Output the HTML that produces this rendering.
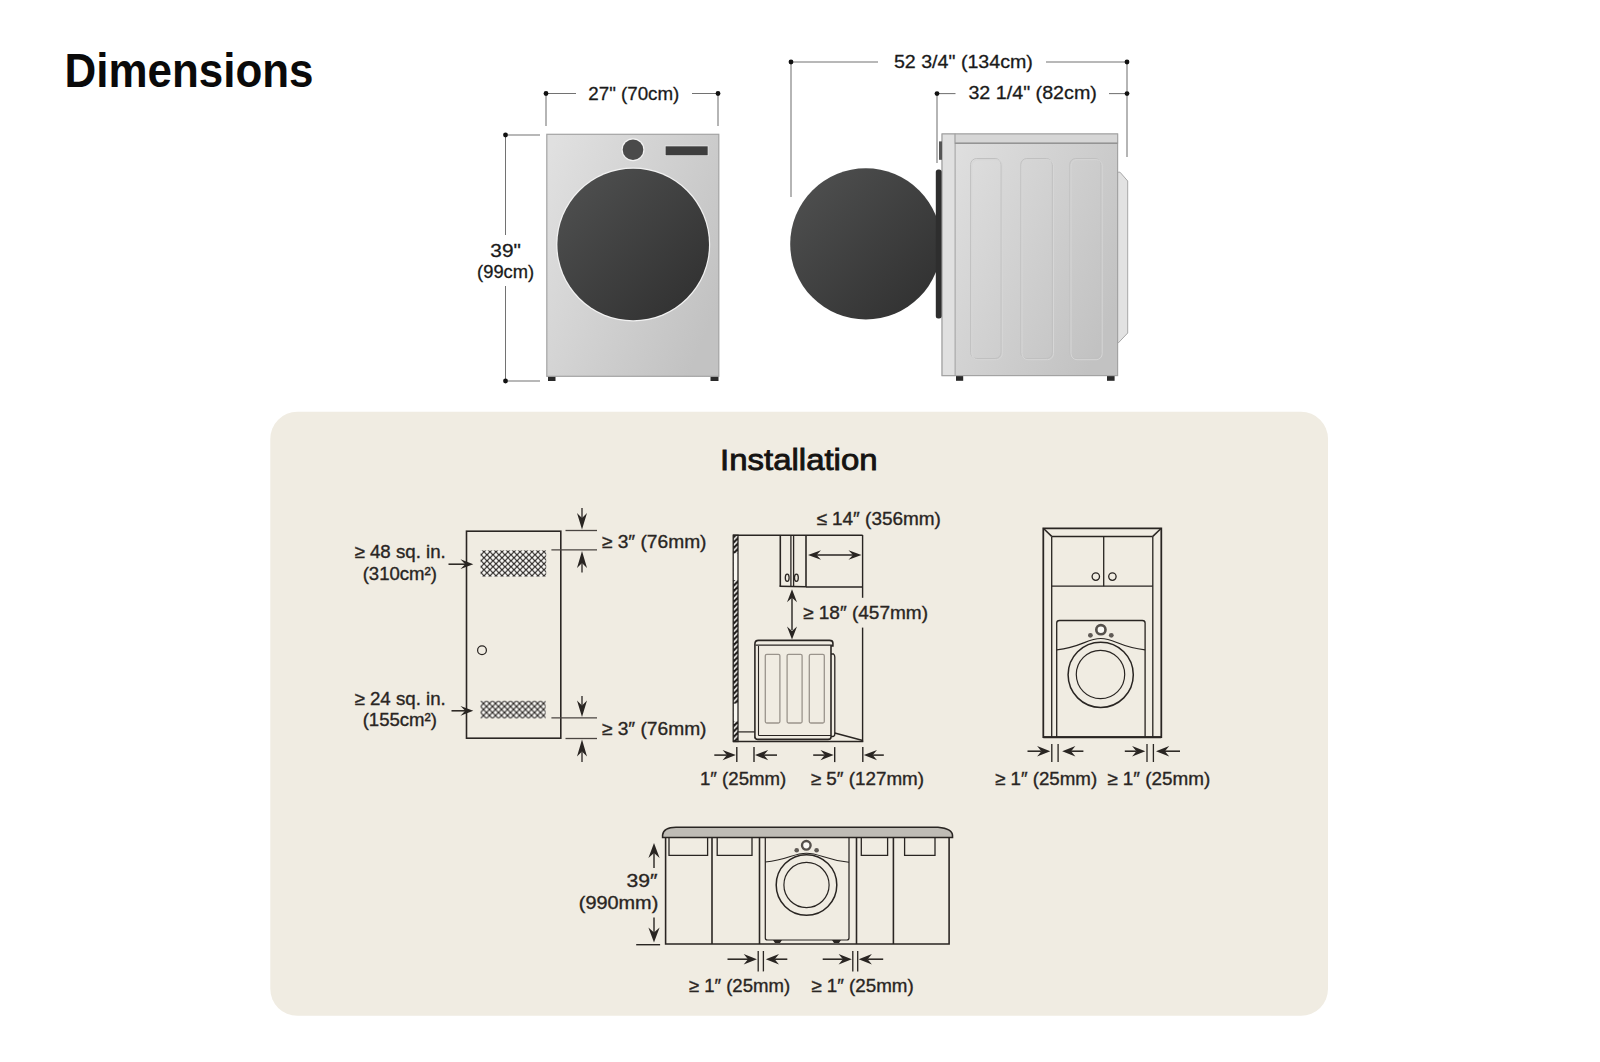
<!DOCTYPE html>
<html><head><meta charset="utf-8"><title>Dimensions</title>
<style>
html,body{margin:0;padding:0;background:#fff;width:1600px;height:1062px;overflow:hidden}
svg{position:absolute;left:0;top:0;display:block}
text{font-family:"Liberation Sans",sans-serif}
</style></head><body>
<svg width="1600" height="1062" viewBox="0 0 1600 1062">
<defs>
  <linearGradient id="body" x1="0" y1="0.1" x2="1" y2="0.7">
    <stop offset="0" stop-color="#e0e0e0"/>
    <stop offset="1" stop-color="#c2c2c2"/>
  </linearGradient>
  <linearGradient id="door" x1="0" y1="0" x2="1" y2="1">
    <stop offset="0" stop-color="#515252"/>
    <stop offset="1" stop-color="#2e2e2e"/>
  </linearGradient>
  <pattern id="mesh1" patternUnits="userSpaceOnUse" width="6" height="6" x="481" y="548.75">
    <rect width="6" height="6" fill="#fbfaf7"/>
    <path d="M-1.5,-1.5 L7.5,7.5 M7.5,-1.5 L-1.5,7.5" stroke="#2a2624" stroke-width="1.2"/>
  </pattern>
  <pattern id="mesh2" patternUnits="userSpaceOnUse" width="6" height="6" x="480.5" y="700.5">
    <rect width="6" height="6" fill="#fbfaf7"/>
    <path d="M-1.5,-1.5 L7.5,7.5 M7.5,-1.5 L-1.5,7.5" stroke="#2a2624" stroke-width="1.2"/>
  </pattern>
  <pattern id="hatch" patternUnits="userSpaceOnUse" width="5.4" height="5.4" x="733" y="535">
    <rect width="5.4" height="5.4" fill="#1a1715"/>
    <path d="M-1,6.4 L6.4,-1" stroke="#fbfaf6" stroke-width="1.7"/>
  </pattern>
</defs>

<!-- ============ TITLE ============ -->
<text x="64.5" y="87" font-size="48" font-weight="bold" fill="#0a0a0a" textLength="249" lengthAdjust="spacingAndGlyphs">Dimensions</text>

<!-- ============ FRONT WASHER ============ -->
<g>
  <!-- width dim -->
  <g stroke="#727272" stroke-width="1.05" fill="none">
    <line x1="546" y1="93.5" x2="576" y2="93.5"/>
    <line x1="692" y1="93.5" x2="718" y2="93.5"/>
    <line x1="546" y1="93.5" x2="546" y2="126"/>
    <line x1="718" y1="93.5" x2="718" y2="126"/>
    <line x1="505.5" y1="135" x2="540" y2="135"/>
    <line x1="505.5" y1="381" x2="540" y2="381"/>
    <line x1="505.5" y1="135" x2="505.5" y2="235"/>
    <line x1="505.5" y1="286" x2="505.5" y2="381"/>
  </g>
  <g fill="#111">
    <circle cx="546" cy="93.5" r="2.4"/><circle cx="718" cy="93.5" r="2.4"/>
    <circle cx="505.5" cy="135" r="2.4"/><circle cx="505.5" cy="381" r="2.4"/>
  </g>
  <text x="633.8" y="99.8" font-size="19" fill="#1a1a1a" stroke="#1a1a1a" stroke-width="0.3" text-anchor="middle" textLength="91" lengthAdjust="spacingAndGlyphs">27" (70cm)</text>
  <text x="505.6" y="256.6" font-size="19" fill="#1a1a1a" stroke="#1a1a1a" stroke-width="0.3" text-anchor="middle" textLength="30.5" lengthAdjust="spacingAndGlyphs">39"</text>
  <text x="505.6" y="278.2" font-size="19" fill="#1a1a1a" stroke="#1a1a1a" stroke-width="0.3" text-anchor="middle" textLength="57" lengthAdjust="spacingAndGlyphs">(99cm)</text>
  <!-- body -->
  <rect x="548" y="376" width="7.5" height="5" fill="#2a2a2a"/>
  <rect x="710.5" y="376" width="8" height="5" fill="#2a2a2a"/>
  <rect x="546.8" y="134.3" width="172" height="242" fill="url(#body)" stroke="#a3a3a3" stroke-width="1.2"/>
  <circle cx="633" cy="149.7" r="11.5" fill="#f2f2f2"/>
  <circle cx="633" cy="149.7" r="10.3" fill="#4a4a4a"/>
  <rect x="665.2" y="146" width="42.8" height="9.7" fill="#3e3e3e" stroke="#f0f0f0" stroke-width="0.6"/>
  <circle cx="633.2" cy="244.5" r="77" fill="#f2f2f2"/>
  <circle cx="633.2" cy="244.5" r="75.8" fill="url(#door)"/>
</g>

<!-- ============ SIDE WASHER ============ -->
<g>
  <g stroke="#727272" stroke-width="1.05" fill="none">
    <line x1="791" y1="62" x2="878" y2="62"/>
    <line x1="1046" y1="62" x2="1127" y2="62"/>
    <line x1="791" y1="62" x2="791" y2="197"/>
    <line x1="1127" y1="62" x2="1127" y2="157"/>
    <line x1="937" y1="93.6" x2="955.5" y2="93.6"/>
    <line x1="1109" y1="93.6" x2="1127" y2="93.6"/>
    <line x1="937" y1="93.6" x2="937" y2="163"/>
  </g>
  <g fill="#111">
    <circle cx="791" cy="62" r="2.4"/><circle cx="1127" cy="62" r="2.4"/>
    <circle cx="937" cy="93.6" r="2.4"/><circle cx="1127" cy="93.6" r="2.4"/>
  </g>
  <text x="893.9" y="68.1" font-size="19" fill="#1a1a1a" stroke="#1a1a1a" stroke-width="0.3" textLength="139" lengthAdjust="spacingAndGlyphs">52 3/4" (134cm)</text>
  <text x="968.4" y="99.4" font-size="19" fill="#1a1a1a" stroke="#1a1a1a" stroke-width="0.3" textLength="128.5" lengthAdjust="spacingAndGlyphs">32 1/4" (82cm)</text>

  <!-- rear bump -->
  <path d="M1117,172.2 L1120,172.2 L1127.7,181 L1127.7,333 L1118,343.2 L1117,343.2 Z" fill="#e2e2e2" stroke="#a8a8a8" stroke-width="1"/>
  <!-- feet -->
  <rect x="956" y="375.6" width="7.2" height="5.2" fill="#2a2a2a"/>
  <rect x="1107" y="375.6" width="7.6" height="5.2" fill="#2a2a2a"/>
  <!-- body -->
  <rect x="942.1" y="134" width="175.5" height="241.6" fill="url(#body)" stroke="#a3a3a3" stroke-width="1.2"/>
  <rect x="942.1" y="134" width="13" height="241.6" fill="#e0e0e0" stroke="#a0a0a0" stroke-width="1"/>
  <rect x="955.1" y="134" width="162.5" height="9.4" fill="#d6d6d6" stroke="#a3a3a3" stroke-width="1"/><line x1="955.1" y1="143.2" x2="1117.6" y2="143.2" stroke="#8e8e8e" stroke-width="1.3"/>
  <g fill="none" stroke="#c0c0c0" stroke-width="1">
    <rect x="970.6" y="158.5" width="30.5" height="200" rx="6"/>
    <rect x="1020.8" y="158.5" width="31.5" height="200" rx="6"/>
    <rect x="1069.8" y="158.5" width="31.2" height="200" rx="6"/>
  </g>
  <g fill="none" stroke="#d6d6d6" stroke-width="1">
    <rect x="971.8" y="159.7" width="30.5" height="200" rx="6"/>
    <rect x="1022" y="159.7" width="31.5" height="200" rx="6"/>
    <rect x="1071" y="159.7" width="31.2" height="200" rx="6"/>
  </g>
  <!-- knob stub -->
  <rect x="939" y="141.4" width="3" height="18.4" fill="#555"/>
  <!-- door -->
  <clipPath id="dclip"><rect x="780" y="160" width="156" height="170"/></clipPath><circle cx="865.8" cy="243.9" r="75.6" fill="url(#door)" clip-path="url(#dclip)"/>
  <rect x="935.8" y="169.5" width="5.8" height="149" rx="2.5" fill="#2e2e2e"/>
</g>


<rect x="270.3" y="411.8" width="1057.7" height="604" rx="27" fill="#f0ece2"/>
<text x="720.1" y="470.2" font-size="30" text-anchor="start" fill="#151311" stroke="#151311" stroke-width="0.85" font-weight="normal" textLength="157.5" lengthAdjust="spacingAndGlyphs">Installation</text>
<rect x="466.5" y="531.2" width="94.3" height="207" fill="none" stroke="#292522" stroke-width="1.58"/>
<rect x="480.6" y="550.4" width="65.6" height="26.2" fill="url(#mesh1)"/>
<rect x="480.6" y="700.8" width="65.1" height="17.6" fill="url(#mesh2)"/>
<circle cx="482" cy="650.2" r="4.4" fill="none" stroke="#292522" stroke-width="1.23"/>
<line x1="448.50" y1="564.20" x2="465.20" y2="564.20" stroke="#292522" stroke-width="1.54"/><path d="M473.30,564.20 L460.50,569.10 L465.20,564.20 L460.50,559.30 Z" fill="#292522"/>
<line x1="451.50" y1="710.80" x2="465.20" y2="710.80" stroke="#292522" stroke-width="1.54"/><path d="M473.30,710.80 L460.50,715.70 L465.20,710.80 L460.50,705.90 Z" fill="#292522"/>
<line x1="565.5" y1="530.5" x2="597" y2="530.5" stroke="#4a4541" stroke-width="1.3" />
<line x1="551.4" y1="549.9" x2="597" y2="549.9" stroke="#4a4541" stroke-width="1.3" />
<line x1="582.00" y1="508.10" x2="582.00" y2="518.10" stroke="#292522" stroke-width="1.3"/><path d="M582.00,529.60 L577.00,513.10 L582.00,518.10 L587.00,513.10 Z" fill="#292522"/>
<line x1="582.00" y1="572.50" x2="582.00" y2="563.00" stroke="#292522" stroke-width="1.3"/><path d="M582.00,551.00 L587.00,568.00 L582.00,563.00 L577.00,568.00 Z" fill="#292522"/>
<line x1="551.4" y1="717.9" x2="597" y2="717.9" stroke="#4a4541" stroke-width="1.3" />
<line x1="565.5" y1="738.5" x2="597" y2="738.5" stroke="#4a4541" stroke-width="1.3" />
<line x1="582.00" y1="696.00" x2="582.00" y2="705.50" stroke="#292522" stroke-width="1.3"/><path d="M582.00,717.00 L577.00,700.50 L582.00,705.50 L587.00,700.50 Z" fill="#292522"/>
<line x1="582.00" y1="762.00" x2="582.00" y2="751.50" stroke="#292522" stroke-width="1.3"/><path d="M582.00,739.50 L587.00,756.50 L582.00,751.50 L577.00,756.50 Z" fill="#292522"/>
<text x="445.8" y="557.5" font-size="18.5" text-anchor="end" fill="#292522" stroke="#292522" stroke-width="0.35" font-weight="normal" textLength="91.3" lengthAdjust="spacingAndGlyphs">≥ 48 sq. in.</text>
<text x="399.8" y="579.6" font-size="18.5" text-anchor="middle" fill="#292522" stroke="#292522" stroke-width="0.35" font-weight="normal" textLength="74.3" lengthAdjust="spacingAndGlyphs">(310cm²)</text>
<text x="445.8" y="704.8" font-size="18.5" text-anchor="end" fill="#292522" stroke="#292522" stroke-width="0.35" font-weight="normal" textLength="91.3" lengthAdjust="spacingAndGlyphs">≥ 24 sq. in.</text>
<text x="399.8" y="726.2" font-size="18.5" text-anchor="middle" fill="#292522" stroke="#292522" stroke-width="0.35" font-weight="normal" textLength="74.3" lengthAdjust="spacingAndGlyphs">(155cm²)</text>
<text x="601.8" y="547.5" font-size="18.5" text-anchor="start" fill="#292522" stroke="#292522" stroke-width="0.35" font-weight="normal" textLength="104.7" lengthAdjust="spacingAndGlyphs">≥ 3″ (76mm)</text>
<text x="601.8" y="734.5" font-size="18.5" text-anchor="start" fill="#292522" stroke="#292522" stroke-width="0.35" font-weight="normal" textLength="104.7" lengthAdjust="spacingAndGlyphs">≥ 3″ (76mm)</text>
<rect x="733.2" y="535.2" width="4.8" height="206.3" fill="url(#hatch)"/>
<rect x="733.2" y="553.4" width="4.8" height="26.7" fill="#f8f6f0"/>
<rect x="733.2" y="703.6" width="4.8" height="17.7" fill="#f8f6f0"/>
<rect x="733.2" y="535.2" width="4.8" height="206.3" fill="none" stroke="#292522" stroke-width="1.3"/>
<line x1="733" y1="535.2" x2="862.6" y2="535.2" stroke="#292522" stroke-width="1.5" />
<line x1="862.6" y1="535" x2="862.6" y2="597.8" stroke="#292522" stroke-width="1.41" />
<line x1="862.6" y1="627.6" x2="862.6" y2="741.5" stroke="#292522" stroke-width="1.41" />
<line x1="733" y1="741.5" x2="863.3" y2="741.5" stroke="#292522" stroke-width="1.5" />
<line x1="780.3" y1="535" x2="780.3" y2="586.3" stroke="#292522" stroke-width="1.58" />
<line x1="790.9" y1="535" x2="790.9" y2="586.3" stroke="#292522" stroke-width="1.3" />
<line x1="793.6" y1="535" x2="793.6" y2="586.3" stroke="#292522" stroke-width="1.3" />
<line x1="806" y1="535" x2="806" y2="587" stroke="#292522" stroke-width="1.58" />
<line x1="779.5" y1="586.3" x2="806" y2="586.8" stroke="#292522" stroke-width="1.58" />
<line x1="806" y1="587" x2="862.6" y2="587" stroke="#292522" stroke-width="1.32" />
<ellipse cx="787.2" cy="577.7" rx="1.9" ry="3.6" fill="none" stroke="#292522" stroke-width="1.32"/>
<ellipse cx="796.4" cy="577.7" rx="1.9" ry="3.6" fill="none" stroke="#292522" stroke-width="1.32"/>
<line x1="815" y1="555" x2="854" y2="555" stroke="#292522" stroke-width="1.41" />
<path d="M808.00,555.00 L821.00,550.20 L816.50,555.00 L821.00,559.80 Z" fill="#292522"/>
<path d="M861.50,555.00 L848.50,559.80 L853.00,555.00 L848.50,550.20 Z" fill="#292522"/>
<line x1="792" y1="598" x2="792" y2="630" stroke="#292522" stroke-width="1.41" />
<path d="M792.00,589.20 L797.00,602.20 L792.00,597.70 L787.00,602.20 Z" fill="#292522"/>
<path d="M792.00,639.50 L787.00,626.50 L792.00,631.00 L797.00,626.50 Z" fill="#292522"/>
<path d="M754.9,738.5 L754.9,644 Q754.9,640.4 758.5,640.4 L829.5,640.4 Q832.9,640.4 832.9,643 L832.9,646 L831,646 L831,737 Q831,739.4 828,739.4 L758,739.4 Q754.9,739.4 754.9,736" fill="none" stroke="#292522" stroke-width="1.58"/>
<line x1="755.5" y1="645.2" x2="832" y2="645.2" stroke="#292522" stroke-width="1.32" />
<line x1="758.5" y1="646" x2="758.5" y2="735.5" stroke="#292522" stroke-width="1.1" />
<line x1="758.5" y1="735.5" x2="831" y2="735.5" stroke="#292522" stroke-width="1.1" />
<path d="M831,654 L833.5,654 Q834.8,655 834.8,657 L834.8,734 Q834.8,736.5 832.5,736.5 L831,736.5" fill="none" stroke="#292522" stroke-width="1.3"/>
<rect x="765.3" y="654.3" width="14.6" height="68.7" rx="1.5" fill="none" stroke="#9a948c" stroke-width="1.3"/>
<rect x="787.1" y="654.3" width="15.0" height="68.7" rx="1.5" fill="none" stroke="#9a948c" stroke-width="1.3"/>
<rect x="809.3" y="654.3" width="15.0" height="68.7" rx="1.5" fill="none" stroke="#9a948c" stroke-width="1.3"/>
<line x1="738" y1="731.9" x2="754.9" y2="731.9" stroke="#292522" stroke-width="1.23" />
<line x1="834.7" y1="733" x2="862.8" y2="740.5" stroke="#292522" stroke-width="1.32" />
<line x1="736.8" y1="747.1" x2="736.8" y2="762.1" stroke="#292522" stroke-width="1.41" />
<line x1="754" y1="747.1" x2="754" y2="762.1" stroke="#292522" stroke-width="1.41" />
<line x1="834.7" y1="747.1" x2="834.7" y2="762.1" stroke="#292522" stroke-width="1.41" />
<line x1="862.8" y1="747.1" x2="862.8" y2="762.1" stroke="#292522" stroke-width="1.41" />
<line x1="714.30" y1="755.10" x2="726.90" y2="755.10" stroke="#292522" stroke-width="1.54"/><path d="M735.80,755.10 L722.60,760.30 L726.90,755.10 L722.60,749.90 Z" fill="#292522"/>
<line x1="777.00" y1="755.10" x2="763.90" y2="755.10" stroke="#292522" stroke-width="1.54"/><path d="M755.00,755.10 L768.20,749.90 L763.90,755.10 L768.20,760.30 Z" fill="#292522"/>
<line x1="813.20" y1="755.10" x2="824.80" y2="755.10" stroke="#292522" stroke-width="1.54"/><path d="M833.70,755.10 L820.50,760.30 L824.80,755.10 L820.50,749.90 Z" fill="#292522"/>
<line x1="883.80" y1="755.10" x2="872.70" y2="755.10" stroke="#292522" stroke-width="1.54"/><path d="M863.80,755.10 L877.00,749.90 L872.70,755.10 L877.00,760.30 Z" fill="#292522"/>
<text x="816.4" y="524.8" font-size="18.5" text-anchor="start" fill="#292522" stroke="#292522" stroke-width="0.35" font-weight="normal" textLength="124.5" lengthAdjust="spacingAndGlyphs">≤ 14″ (356mm)</text>
<text x="803" y="619.2" font-size="18.5" text-anchor="start" fill="#292522" stroke="#292522" stroke-width="0.35" font-weight="normal" textLength="125" lengthAdjust="spacingAndGlyphs">≥ 18″ (457mm)</text>
<text x="700" y="784.5" font-size="18.5" text-anchor="start" fill="#292522" stroke="#292522" stroke-width="0.35" font-weight="normal" textLength="86.2" lengthAdjust="spacingAndGlyphs">1″ (25mm)</text>
<text x="810.8" y="784.5" font-size="18.5" text-anchor="start" fill="#292522" stroke="#292522" stroke-width="0.35" font-weight="normal" textLength="113.2" lengthAdjust="spacingAndGlyphs">≥ 5″ (127mm)</text>
<path d="M1043.3,737.2 L1043.3,528.3 L1161.3,528.3 L1161.3,737.2 Z" fill="none" stroke="#292522" stroke-width="1.76"/>
<line x1="1051.7" y1="536.4" x2="1051.7" y2="737.2" stroke="#292522" stroke-width="1.32" />
<line x1="1152.8" y1="536.4" x2="1152.8" y2="737.2" stroke="#292522" stroke-width="1.32" />
<line x1="1051.7" y1="536.4" x2="1152.8" y2="536.4" stroke="#292522" stroke-width="1.5" />
<line x1="1043.3" y1="528.3" x2="1051.7" y2="536.4" stroke="#292522" stroke-width="1.5" />
<line x1="1161.3" y1="528.3" x2="1152.8" y2="536.4" stroke="#292522" stroke-width="1.5" />
<line x1="1051.7" y1="586.2" x2="1152.8" y2="586.2" stroke="#292522" stroke-width="1.32" />
<line x1="1103.7" y1="536.4" x2="1103.7" y2="586.2" stroke="#292522" stroke-width="1.32" />
<circle cx="1095.8" cy="576.6" r="3.7" fill="none" stroke="#292522" stroke-width="1.3"/>
<circle cx="1112.4" cy="576.6" r="3.7" fill="none" stroke="#292522" stroke-width="1.3"/>
<path d="M1056.7,737 L1056.7,623 Q1056.7,620.5 1059.5,620.5 L1142.3,620.5 Q1145.1,620.5 1145.1,623 L1145.1,737" fill="none" stroke="#292522" stroke-width="1.32"/>
<line x1="1043.3" y1="737.2" x2="1161.3" y2="737.2" stroke="#292522" stroke-width="1.94" />
<path d="M1056.7,649.8 C1082,647 1087,638.5 1100.8,638.5 C1114.5,638.5 1119,647 1145.1,649.8" fill="none" stroke="#292522" stroke-width="1.2"/>
<circle cx="1100.9" cy="629.7" r="4.6" fill="#fbfaf6" stroke="#55504b" stroke-width="2.64"/>
<circle cx="1090.4" cy="635.3" r="2.4" fill="#5f5a55"/>
<circle cx="1111.3" cy="635.3" r="2.4" fill="#5f5a55"/>
<circle cx="1100.7" cy="674.8" r="32.6" fill="none" stroke="#292522" stroke-width="1.5"/>
<circle cx="1100.5" cy="674.5" r="24.2" fill="none" stroke="#292522" stroke-width="1.2"/>
<line x1="1051.8" y1="744" x2="1051.8" y2="762" stroke="#292522" stroke-width="1.32" />
<line x1="1058.1" y1="744" x2="1058.1" y2="762" stroke="#292522" stroke-width="1.32" />
<line x1="1147" y1="744" x2="1147" y2="762" stroke="#292522" stroke-width="1.32" />
<line x1="1153.4" y1="744" x2="1153.4" y2="762" stroke="#292522" stroke-width="1.32" />
<line x1="1027.50" y1="751.20" x2="1041.40" y2="751.20" stroke="#292522" stroke-width="1.54"/><path d="M1050.30,751.20 L1037.10,756.40 L1041.40,751.20 L1037.10,746.00 Z" fill="#292522"/>
<line x1="1083.40" y1="751.20" x2="1071.10" y2="751.20" stroke="#292522" stroke-width="1.54"/><path d="M1062.20,751.20 L1075.40,746.00 L1071.10,751.20 L1075.40,756.40 Z" fill="#292522"/>
<line x1="1124.80" y1="751.20" x2="1136.40" y2="751.20" stroke="#292522" stroke-width="1.54"/><path d="M1145.30,751.20 L1132.10,756.40 L1136.40,751.20 L1132.10,746.00 Z" fill="#292522"/>
<line x1="1180.00" y1="751.20" x2="1164.90" y2="751.20" stroke="#292522" stroke-width="1.54"/><path d="M1156.00,751.20 L1169.20,746.00 L1164.90,751.20 L1169.20,756.40 Z" fill="#292522"/>
<text x="995" y="784.6" font-size="18.5" text-anchor="start" fill="#292522" stroke="#292522" stroke-width="0.35" font-weight="normal" textLength="102.2" lengthAdjust="spacingAndGlyphs">≥ 1″ (25mm)</text>
<text x="1107.2" y="784.6" font-size="18.5" text-anchor="start" fill="#292522" stroke="#292522" stroke-width="0.35" font-weight="normal" textLength="103" lengthAdjust="spacingAndGlyphs">≥ 1″ (25mm)</text>
<path d="M662.6,837.5 L662.6,835 Q663.5,827.2 676,827.2 L938,827.2 Q952.5,828.5 952.5,835.5 L952.5,837.5 Z" fill="#bfbcb5" stroke="#292522" stroke-width="1.58"/>
<path d="M665.6,837.5 L665.6,944 L949.1,944 L949.1,837.5" fill="none" stroke="#292522" stroke-width="1.58"/>
<line x1="712" y1="837.5" x2="712" y2="944" stroke="#292522" stroke-width="1.58" />
<line x1="759.5" y1="837.5" x2="759.5" y2="944" stroke="#292522" stroke-width="1.58" />
<line x1="856.5" y1="837.5" x2="856.5" y2="944" stroke="#292522" stroke-width="1.58" />
<line x1="893.4" y1="837.5" x2="893.4" y2="944" stroke="#292522" stroke-width="1.58" />
<path d="M669,837.5 L669,855.3 L707.6,855.3 L707.6,837.5" fill="none" stroke="#292522" stroke-width="1.3"/>
<path d="M717.2,837.5 L717.2,855.3 L752,855.3 L752,837.5" fill="none" stroke="#292522" stroke-width="1.3"/>
<path d="M861.3,837.5 L861.3,855.3 L887.6,855.3 L887.6,837.5" fill="none" stroke="#292522" stroke-width="1.3"/>
<path d="M904.6,837.5 L904.6,855.3 L935,855.3 L935,837.5" fill="none" stroke="#292522" stroke-width="1.3"/>
<path d="M765.3,837.5 L765.3,938 Q765.3,940 767.5,940 L846.8,940 Q849,940 849,938 L849,837.5" fill="none" stroke="#292522" stroke-width="1.23"/>
<path d="M765.3,862 C788,860 793,853.2 806.5,853.2 C820,853.2 825,860 849,862.3" fill="none" stroke="#292522" stroke-width="1.1"/>
<circle cx="806.3" cy="845.3" r="4.3" fill="#fbfaf6" stroke="#55504b" stroke-width="2.38"/>
<circle cx="796.7" cy="850.2" r="2.3" fill="#5f5a55"/>
<circle cx="816.6" cy="850.2" r="2.3" fill="#5f5a55"/>
<circle cx="806.5" cy="885" r="30.3" fill="none" stroke="#292522" stroke-width="1.5"/>
<circle cx="806.5" cy="885" r="22.6" fill="none" stroke="#292522" stroke-width="1.2"/>
<line x1="636.2" y1="944.7" x2="660.1" y2="944.7" stroke="#292522" stroke-width="1.41" />
<path d="M773,940 L775,943 L780,943 L782,940 Z M832,940 L834,943 L839,943 L841,940 Z" fill="#292522"/>
<line x1="654" y1="850" x2="654" y2="868" stroke="#292522" stroke-width="1.41" />
<path d="M654.00,843.00 L659.60,858.00 L654.00,853.00 L648.40,858.00 Z" fill="#292522"/>
<line x1="654" y1="917.4" x2="654" y2="935" stroke="#292522" stroke-width="1.41" />
<path d="M654.00,942.60 L648.40,927.60 L654.00,932.60 L659.60,927.60 Z" fill="#292522"/>
<text x="657.6" y="886.7" font-size="18.5" text-anchor="end" fill="#292522" stroke="#292522" stroke-width="0.35" font-weight="normal" textLength="31" lengthAdjust="spacingAndGlyphs">39″</text>
<text x="658.3" y="909.2" font-size="18.5" text-anchor="end" fill="#292522" stroke="#292522" stroke-width="0.35" font-weight="normal" textLength="79.5" lengthAdjust="spacingAndGlyphs">(990mm)</text>
<line x1="758.2" y1="951" x2="758.2" y2="971.4" stroke="#292522" stroke-width="1.32" />
<line x1="763.4" y1="951" x2="763.4" y2="971.4" stroke="#292522" stroke-width="1.32" />
<line x1="852.8" y1="951" x2="852.8" y2="971.4" stroke="#292522" stroke-width="1.32" />
<line x1="857.7" y1="951" x2="857.7" y2="971.4" stroke="#292522" stroke-width="1.32" />
<line x1="727.50" y1="959.20" x2="748.00" y2="959.20" stroke="#292522" stroke-width="1.54"/><path d="M756.90,959.20 L743.70,964.40 L748.00,959.20 L743.70,954.00 Z" fill="#292522"/>
<line x1="787.30" y1="959.20" x2="774.70" y2="959.20" stroke="#292522" stroke-width="1.54"/><path d="M765.80,959.20 L779.00,954.00 L774.70,959.20 L779.00,964.40 Z" fill="#292522"/>
<line x1="822.70" y1="959.20" x2="842.90" y2="959.20" stroke="#292522" stroke-width="1.54"/><path d="M851.80,959.20 L838.60,964.40 L842.90,959.20 L838.60,954.00 Z" fill="#292522"/>
<line x1="883.20" y1="959.20" x2="867.60" y2="959.20" stroke="#292522" stroke-width="1.54"/><path d="M858.70,959.20 L871.90,954.00 L867.60,959.20 L871.90,964.40 Z" fill="#292522"/>
<text x="688.8" y="991.5" font-size="18.5" text-anchor="start" fill="#292522" stroke="#292522" stroke-width="0.35" font-weight="normal" textLength="101.3" lengthAdjust="spacingAndGlyphs">≥ 1″ (25mm)</text>
<text x="811.2" y="991.5" font-size="18.5" text-anchor="start" fill="#292522" stroke="#292522" stroke-width="0.35" font-weight="normal" textLength="102.5" lengthAdjust="spacingAndGlyphs">≥ 1″ (25mm)</text>
</svg>
</body></html>
